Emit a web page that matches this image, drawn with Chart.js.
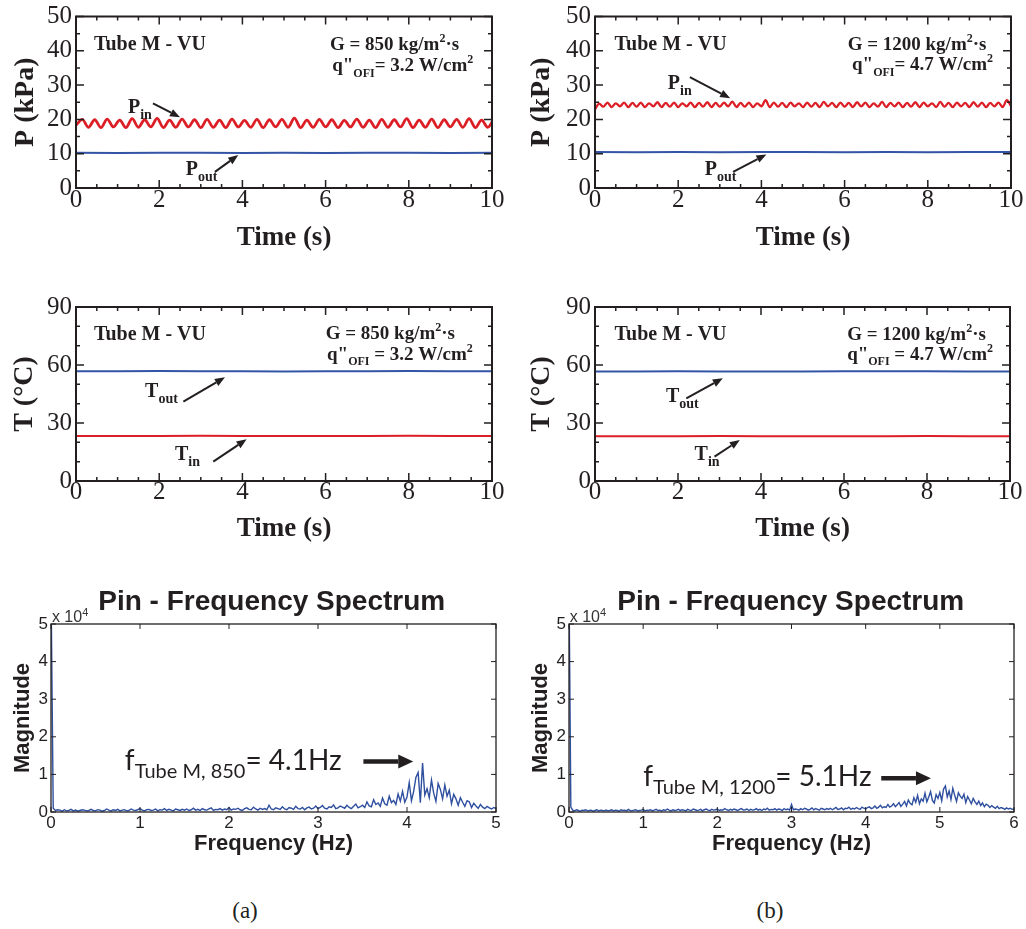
<!DOCTYPE html>
<html>
<head>
<meta charset="utf-8">
<title>Tube M - VU: pressure, temperature and Pin spectrum</title>
<script src="https://cdn.jsdelivr.net/npm/chart.js@4.4.1/dist/chart.umd.min.js"></script>
<style>
  body { margin: 0; background: #fff; }
  #page { position: relative; width: 1026px; height: 929px; }
  canvas { position: absolute; }
  .cap { position: absolute; top: 898px; width: 60px; margin-left: -30px; text-align: center;
         font: 23px "Liberation Serif", "Times New Roman", serif; color: #231f20; }
</style>
</head>
<body>
<div id="page">
  <canvas id="pA" width="513" height="260" style="left:0;top:0"></canvas>
  <canvas id="pB" width="513" height="260" style="left:513px;top:0"></canvas>
  <canvas id="tA" width="513" height="260" style="left:0;top:290px"></canvas>
  <canvas id="tB" width="513" height="260" style="left:513px;top:290px"></canvas>
  <canvas id="fA" width="513" height="300" style="left:0;top:580px"></canvas>
  <canvas id="fB" width="513" height="300" style="left:513px;top:580px"></canvas>
  <div class="cap" style="left:245px">(a)</div>
  <div class="cap" style="left:770px">(b)</div>
</div>
<script>
const INK = '#231f20', RED = '#dc1f26', BLUE = '#3454a6', SPEC = '#2f4f9f';
const SERIF = '"Liberation Serif", "Times New Roman", serif';
const SANS = '"Liberation Sans", Arial, sans-serif';
const HAND = 'Lato, "Open Sans", sans-serif';

// tick labels
const timeTicks = [0, 2, 4, 6, 8, 10];
const pTicks = [0, 10, 20, 30, 40, 50];
const tTicks = [0, 30, 60, 90];
const freqTicks850 = [0, 1, 2, 3, 4, 5];
const freqTicks1200 = [0, 1, 2, 3, 4, 5, 6];
const magTicks = [0, 1, 2, 3, 4, 5];   // x 10^4

// inlet pressure (kPa), one sample every dt seconds
const dtPin850 = 0.15;
const pIn850 = [18.3, 20.0, 17.7, 19.9, 17.6, 20.1, 17.8, 19.8, 17.6, 20.2,
  17.7, 19.9, 17.8, 20.3, 17.6, 19.8, 17.7, 20.1, 17.8, 19.9,
  17.6, 20.0, 17.7, 19.8, 17.6, 20.1, 17.8, 19.7, 17.7, 20.0,
  17.6, 19.9, 17.8, 20.0, 17.7, 20.4, 17.6, 19.8, 17.7, 20.0,
  17.8, 19.9, 17.6, 19.7, 17.8, 20.1, 17.7, 19.8, 17.6, 20.0,
  17.7, 19.9, 17.8, 20.2, 17.6, 19.8, 17.7, 20.1, 17.6, 19.9,
  17.8, 20.0, 17.7, 20.2, 17.6, 19.8, 17.7, 20.3];
const dtPin1200 = 0.1;
const pIn1200 = [22.9, 24.6, 23.7, 24.9, 23.6, 24.7, 23.8, 24.9, 23.6, 24.8,
  23.7, 24.9, 23.6, 24.7, 23.8, 25.0, 23.6, 24.8, 23.7, 24.9,
  23.6, 24.7, 23.8, 24.9, 23.6, 24.8, 23.7, 25.0, 23.6, 24.8,
  23.7, 24.9, 23.8, 25.2, 23.6, 24.8, 23.7, 24.9, 23.6, 24.7,
  23.8, 25.6, 23.6, 24.9, 23.7, 24.8, 23.6, 24.9, 23.8, 24.7,
  23.6, 24.9, 23.7, 24.8, 23.6, 25.1, 23.8, 24.8, 23.6, 24.9,
  23.7, 24.8, 23.6, 25.0, 23.8, 24.9, 23.6, 24.7, 23.7, 25.1,
  23.6, 24.8, 23.8, 24.9, 23.6, 24.8, 23.7, 25.0, 23.6, 24.9,
  23.8, 24.7, 23.6, 25.1, 23.7, 24.8, 23.6, 24.9, 23.8, 24.8,
  23.6, 25.0, 23.7, 24.9, 23.6, 24.8, 23.8, 24.9, 23.6, 25.6,
  23.9];

// slow signals, one sample per second
const dtSlow = 1;
const pOut850 = [10.3, 10.2, 10.3, 10.3, 10.2, 10.3, 10.2, 10.3, 10.3, 10.2, 10.3];
const pOut1200 = [10.5, 10.4, 10.5, 10.4, 10.5, 10.5, 10.4, 10.5, 10.4, 10.5, 10.5];
const tOut850 = [56.8, 56.8, 56.9, 56.8, 56.8, 56.7, 56.8, 56.8, 56.9, 56.8, 56.8];
const tIn850 = [23.3, 23.3, 23.3, 23.4, 23.3, 23.3, 23.3, 23.3, 23.4, 23.3, 23.3];
const tOut1200 = [56.7, 56.7, 56.8, 56.7, 56.7, 56.7, 56.8, 56.8, 56.8, 56.7, 56.7];
const tIn1200 = [23.2, 23.2, 23.2, 23.3, 23.2, 23.2, 23.2, 23.2, 23.3, 23.2, 23.2];

// Pin spectra, magnitude in units of 10^4, one bin every df Hz
const df = 0.025;
const spec850 = [6, 0.10, 0.04, 0.06, 0.05, 0.02, 0.06, 0.03, 0.04, 0.07, 0.03, 0.05, 0.02, 0.04, 0.06, 0.05, 0.03, 0.04, 0.07, 0.04,
  0.03, 0.06, 0.05, 0.02, 0.04, 0.08, 0.05, 0.03, 0.06, 0.04, 0.07, 0.03, 0.05, 0.06, 0.03, 0.04, 0.08, 0.05, 0.04, 0.06,
  0.09, 0.05, 0.03, 0.06, 0.07, 0.04, 0.05, 0.08, 0.03, 0.06, 0.05, 0.09, 0.04, 0.07, 0.05, 0.03, 0.08, 0.06, 0.04, 0.07,
  0.05, 0.08, 0.04, 0.06, 0.10, 0.05, 0.07, 0.04, 0.09, 0.06, 0.05, 0.08, 0.11, 0.04, 0.07, 0.06, 0.09, 0.05, 0.08, 0.06,
  0.12, 0.05, 0.08, 0.07, 0.10, 0.06, 0.04, 0.09, 0.11, 0.07, 0.06, 0.13, 0.08, 0.05, 0.10, 0.07, 0.09, 0.06, 0.18, 0.08,
  0.06, 0.11, 0.09, 0.07, 0.14, 0.08, 0.06, 0.12, 0.10, 0.07, 0.15, 0.09, 0.08, 0.12, 0.06, 0.11, 0.13, 0.08, 0.10, 0.16,
  0.09, 0.12, 0.17, 0.10, 0.08, 0.14, 0.12, 0.19, 0.09, 0.11, 0.16, 0.13, 0.10, 0.18, 0.12, 0.09, 0.15, 0.21, 0.11, 0.14,
  0.18, 0.12, 0.27, 0.16, 0.14, 0.33, 0.20, 0.24, 0.15, 0.37, 0.22, 0.18, 0.42, 0.25, 0.31, 0.20, 0.48, 0.29, 0.55, 0.26,
  0.40, 0.78, 0.30, 0.55, 0.92, 1.05, 0.25, 1.30, 0.45, 0.62, 0.38, 0.85, 0.50, 0.28, 0.76, 0.60, 0.35, 0.72, 0.42, 0.58,
  0.22, 0.47, 0.35, 0.18, 0.38, 0.26, 0.15, 0.30, 0.27, 0.12, 0.23, 0.16, 0.10, 0.20, 0.13, 0.09, 0.15, 0.11, 0.08, 0.12,
  0.09];
const spec1200 = [6, 0.13, 0.05, 0.03, 0.06, 0.04, 0.02, 0.05, 0.04, 0.06, 0.03, 0.04, 0.05, 0.02, 0.04, 0.06, 0.03, 0.05, 0.04, 0.03,
  0.05, 0.03, 0.04, 0.06, 0.03, 0.05, 0.04, 0.02, 0.06, 0.04, 0.05, 0.03, 0.07, 0.04, 0.03, 0.05, 0.06, 0.03, 0.04, 0.05,
  0.07, 0.03, 0.05, 0.04, 0.06, 0.03, 0.05, 0.07, 0.04, 0.05, 0.03, 0.06, 0.04, 0.08, 0.05, 0.03, 0.06, 0.04, 0.05, 0.07,
  0.04, 0.06, 0.05, 0.03, 0.07, 0.05, 0.04, 0.08, 0.06, 0.04, 0.05, 0.07, 0.03, 0.06, 0.08, 0.05, 0.04, 0.07, 0.05, 0.06,
  0.08, 0.04, 0.06, 0.05, 0.09, 0.06, 0.04, 0.07, 0.05, 0.08, 0.06, 0.04, 0.07, 0.09, 0.05, 0.06, 0.08, 0.04, 0.07, 0.05,
  0.06, 0.09, 0.05, 0.07, 0.04, 0.08, 0.06, 0.10, 0.05, 0.07, 0.06, 0.09, 0.05, 0.08, 0.07, 0.04, 0.09, 0.06, 0.08, 0.05,
  0.20, 0.06, 0.08, 0.07, 0.05, 0.09, 0.06, 0.10, 0.08, 0.05, 0.07, 0.11, 0.06, 0.09, 0.07, 0.05, 0.10, 0.08, 0.06, 0.09,
  0.07, 0.10, 0.06, 0.09, 0.12, 0.07, 0.08, 0.11, 0.06, 0.10, 0.09, 0.13, 0.07, 0.10, 0.08, 0.12, 0.09, 0.07, 0.13, 0.10,
  0.08, 0.12, 0.14, 0.09, 0.11, 0.16, 0.10, 0.13, 0.18, 0.11, 0.14, 0.12, 0.20, 0.13, 0.16, 0.22, 0.14, 0.19, 0.25, 0.15,
  0.21, 0.28, 0.16, 0.32, 0.23, 0.19, 0.38, 0.26, 0.44, 0.22, 0.35, 0.29, 0.50, 0.27, 0.40, 0.54, 0.31, 0.24, 0.46, 0.36,
  0.52, 0.30, 0.61, 0.69, 0.40, 0.56, 0.33, 0.63, 0.45, 0.28, 0.51, 0.42, 0.36, 0.47, 0.25, 0.41, 0.32, 0.22, 0.36, 0.27,
  0.20, 0.29, 0.17, 0.24, 0.14, 0.21, 0.18, 0.12, 0.17, 0.13, 0.10, 0.15, 0.09, 0.12, 0.10, 0.07, 0.11, 0.08, 0.10, 0.07,
  0.08];

const pts = (vals, step) => vals.map((v, i) => ({ x: i * step, y: v }));

// text with sub/superscript parts, vertically centred on py
function drawRich(ctx, t, px, py) {
  const size = t.size, fam = t.family || SERIF, wt = t.weight || 'bold';
  const small = Math.round(size * (t.subScale || 0.62));
  const fontOf = m => `${wt} ${m ? small : size}px ${fam}`;
  let w = 0;
  for (const [s, m] of t.parts) { ctx.font = fontOf(m); w += ctx.measureText(s).width; }
  let cx = t.align === 'right' ? px - w : t.align === 'center' ? px - w / 2 : px;
  const base = py + size * 0.35;
  ctx.textAlign = 'left';
  ctx.textBaseline = 'alphabetic';
  ctx.fillStyle = t.color || INK;
  for (const [s, m] of t.parts) {
    ctx.font = fontOf(m);
    const dy = m === 'sub' ? size * (t.subDy || 0.3) : m === 'sup' ? -size * 0.42 : 0;
    ctx.fillText(s, cx, base + dy);
    cx += ctx.measureText(s).width;
  }
}

function drawArrow(ctx, x1, y1, x2, y2, lw, hl, hw) {
  const ang = Math.atan2(y2 - y1, x2 - x1);
  const bx = x2 - hl * Math.cos(ang), by = y2 - hl * Math.sin(ang);
  ctx.lineWidth = lw;
  ctx.beginPath(); ctx.moveTo(x1, y1); ctx.lineTo(bx, by); ctx.stroke();
  ctx.beginPath();
  ctx.moveTo(x2, y2);
  ctx.lineTo(bx + hw / 2 * Math.sin(ang), by - hw / 2 * Math.cos(ang));
  ctx.lineTo(bx - hw / 2 * Math.sin(ang), by + hw / 2 * Math.cos(ang));
  ctx.closePath(); ctx.fill();
}

// frame, inward ticks on all four sides, notes and arrows
function decor(spec) {
  return {
    id: 'decor',
    afterDatasetsDraw(chart) {
      const { ctx, chartArea: a, scales: { x, y } } = chart;
      ctx.save();
      ctx.strokeStyle = INK; ctx.fillStyle = INK;
      ctx.lineWidth = spec.tickWidth;
      ctx.beginPath();
      for (const [sc, step, len] of spec.ticks) {
        const scale = sc === 'x' ? x : y;
        const n = Math.round((scale.max - scale.min) / step);
        for (let i = 0; i <= n; i++) {
          const p = scale.getPixelForValue(scale.min + i * step);
          if (sc === 'x') {
            ctx.moveTo(p, a.bottom); ctx.lineTo(p, a.bottom - len);
            ctx.moveTo(p, a.top); ctx.lineTo(p, a.top + len);
          } else {
            ctx.moveTo(a.left, p); ctx.lineTo(a.left + len, p);
            ctx.moveTo(a.right, p); ctx.lineTo(a.right - len, p);
          }
        }
      }
      ctx.stroke();
      ctx.lineWidth = spec.frame;
      ctx.strokeRect(a.left, a.top, a.width, a.height);
      for (const t of spec.texts) drawRich(ctx, t, x.getPixelForValue(t.x), y.getPixelForValue(t.y));
      for (const ar of spec.arrows) {
        drawArrow(ctx, x.getPixelForValue(ar.from[0]), y.getPixelForValue(ar.from[1]),
          x.getPixelForValue(ar.to[0]), y.getPixelForValue(ar.to[1]), ar.lw || 2, ar.hl || 10, ar.hw || 8);
      }
      ctx.restore();
    }
  };
}

function axis(ticksArr, L, font, title) {
  return {
    type: 'linear',
    min: ticksArr[0], max: ticksArr[ticksArr.length - 1],
    afterBuildTicks: s => { s.ticks = ticksArr.map(v => ({ value: v })); },
    ticks: { padding: L.pad, font: font, color: INK, maxRotation: 0, autoSkip: false },
    grid: { display: false, drawTicks: false },
    border: { display: false },
    title: { display: true, text: title.text, font: title.font, color: INK, padding: title.padding },
    afterFit: s => { if (L.w) s.width = L.w; if (L.h) s.height = L.h; }
  };
}

function panel(id, L, xAx, yAx, datasets, spec) {
  return new Chart(document.getElementById(id), {
    type: 'line',
    data: { datasets },
    options: {
      responsive: false, animation: false, events: [],
      layout: { padding: { top: L.top, right: L.right, left: 0, bottom: 0 } },
      elements: { point: { radius: 0 } },
      plugins: { legend: { display: false }, tooltip: { enabled: false } },
      scales: { x: xAx, y: yAx }
    },
    plugins: [decor(spec)]
  });
}

const tickSerif = { family: SERIF, size: 25, lineHeight: 1 };
const tickSans = { family: SANS, size: 17, lineHeight: 1 };
const timeTitle = pb => ({ text: 'Time (s)', font: { family: SERIF, size: 27, weight: 'bold' }, padding: { top: 0, bottom: pb } });
const yTitle = (text, pt) => ({ text, font: { family: SERIF, size: 28, weight: 'bold' }, padding: { top: pt, bottom: 0 } });
const freqTitle = { text: 'Frequency (Hz)', font: { family: SANS, size: 22, weight: 'bold' }, padding: { top: 0, bottom: 23 } };
const magTitle = pt => ({ text: 'Magnitude', font: { family: SANS, size: 22, weight: 'bold' }, padding: { top: pt, bottom: 0 } });

const redLine = (data, w) => ({ data, borderColor: RED, borderWidth: w, cubicInterpolationMode: 'monotone' });
const blueLine = data => ({ data, borderColor: BLUE, borderWidth: 2 });
const specLine = data => ({ data, borderColor: SPEC, borderWidth: 1.4 });

const timeDecor = (yMajor, yMinor, texts, arrows) => ({
  frame: 2, tickWidth: 1.5,
  ticks: [['x', 2, 8], ['x', 0.5, 4], ['y', yMajor, 8], ['y', yMinor, 4]],
  texts, arrows
});
const hdr = (tx, gx, gy, qx, qy, g, q, sp) => [
  { x: tx, y: gy, align: 'left', size: 20, parts: [['Tube M - VU']] },
  { x: gx, y: gy, align: 'right', size: 19, parts: [['G = ' + g + ' kg/m'], ['2', 'sup'], ['·s']] },
  { x: qx, y: qy, align: 'right', size: 19, parts: [['q"'], ['OFI', 'sub'], [sp + '= ' + q + ' W/cm'], ['2', 'sup']] }
];
const lab = (x, y, main, sub) => ({ x, y, align: 'left', size: 20, parts: [[main], [sub, 'sub']], subScale: 0.68 });

// (a) pressure, G = 850
panel('pA', { top: 16, right: 21 },
  axis(timeTicks, { pad: 0, h: 72 }, tickSerif, timeTitle(6)),
  axis(pTicks, { pad: 4, w: 76 }, tickSerif, yTitle('P (kPa)', 9)),
  [redLine(pts(pIn850, dtPin850), 2.8), blueLine(pts(pOut850, dtSlow))],
  timeDecor(10, 5, hdr(0.43, 9.21, 42.2, 9.55, 36.0, '850', '3.2', '').concat([
    lab(1.25, 23.8, 'P', 'in'), lab(2.64, 5.8, 'P', 'out')]),
    [{ from: [1.85, 24.7], to: [2.5, 20.6] }, { from: [3.34, 4.7], to: [3.9, 9.6] }]));

// (b) pressure, G = 1200
panel('pB', { top: 16, right: 15 },
  axis(timeTicks, { pad: 0, h: 72 }, tickSerif, timeTitle(6)),
  axis(pTicks, { pad: 4, w: 82 }, tickSerif, yTitle('P (kPa)', 12)),
  [redLine(pts(pIn1200, dtPin1200), 2.3), blueLine(pts(pOut1200, dtSlow))],
  timeDecor(10, 5, hdr(0.47, 9.41, 42.2, 9.57, 36.3, '1200', '4.7', '').concat([
    lab(1.75, 30.8, 'P', 'in'), lab(2.64, 5.8, 'P', 'out')]),
    [{ from: [2.28, 32.3], to: [3.25, 26.2] }, { from: [3.32, 4.7], to: [4.12, 9.8] }]));

// (a) temperature
panel('tA', { top: 17, right: 21 },
  axis(timeTicks, { pad: -1, h: 69 }, tickSerif, timeTitle(4.5)),
  axis(tTicks, { pad: 4, w: 76 }, tickSerif, yTitle('T (°C)', 8)),
  [blueLine(pts(tOut850, dtSlow)), { ...blueLine(pts(tIn850, dtSlow)), borderColor: RED }],
  timeDecor(30, 10, hdr(0.43, 9.11, 76.7, 9.54, 66.2, '850', '3.2', ' ').concat([
    lab(1.66, 47.1, 'T', 'out'), lab(2.38, 14.5, 'T', 'in')]),
    [{ from: [2.58, 41.0], to: [3.58, 53.6] }, { from: [3.30, 10.0], to: [4.10, 21.6] }]));

// (b) temperature
panel('tB', { top: 17, right: 16 },
  axis(timeTicks, { pad: -1, h: 69 }, tickSerif, timeTitle(4.5)),
  axis(tTicks, { pad: 4, w: 82 }, tickSerif, yTitle('T (°C)', 12)),
  [blueLine(pts(tOut1200, dtSlow)), { ...blueLine(pts(tIn1200, dtSlow)), borderColor: RED }],
  timeDecor(30, 10, hdr(0.47, 9.42, 76.6, 9.59, 66.2, '1200', '4.7', ' ').concat([
    lab(1.71, 44.5, 'T', 'out'), lab(2.40, 14.5, 'T', 'in')]),
    [{ from: [2.2, 42.8], to: [3.08, 53.1] }, { from: [2.88, 12.6], to: [3.49, 21.2] }]));

const specDecor = (titleX, fx, fy, sub, val, ax, ay, bx) => ({
  frame: 1.3, tickWidth: 1,
  ticks: [['x', 1, 5], ['y', 1, 5]],
  texts: [
    { x: titleX, y: 5.64, align: 'center', family: SANS, size: 28, parts: [['Pin - Frequency Spectrum']] },
    { x: 0.01, y: 5.19, align: 'left', family: SANS, weight: 'normal', size: 16, color: '#333', parts: [['x 10'], ['4', 'sup']], subScale: 0.7 },
    { x: fx, y: fy, align: 'left', family: HAND, weight: 'normal', size: 28, parts: [['f'], [sub, 'sub'], ['= ' + val]], subScale: 0.7, subDy: 0.28 }
  ],
  arrows: [{ from: [ax, ay], to: [bx, ay], lw: 4.5, hl: 15, hw: 14 }]
});

// (a) spectrum
panel('fA', { top: 44, right: 17 },
  axis(freqTicks850, { pad: 3, h: 68 }, tickSans, freqTitle),
  axis(magTicks, { pad: 3, w: 51 }, tickSans, magTitle(10)),
  [specLine(pts(spec850, df))],
  specDecor(2.48, 0.83, 1.38, 'Tube M, 850', '4.1Hz', 3.51, 1.34, 4.07));

// (b) spectrum
panel('fB', { top: 44, right: 12 },
  axis(freqTicks1200, { pad: 3, h: 68 }, tickSans, freqTitle),
  axis(magTicks, { pad: 3, w: 56 }, tickSans, magTitle(15)),
  [specLine(pts(spec1200, df))],
  specDecor(2.99, 1.0, 0.94, 'Tube M, 1200', '5.1Hz', 4.21, 0.90, 4.88));
</script>
</body>
</html>
